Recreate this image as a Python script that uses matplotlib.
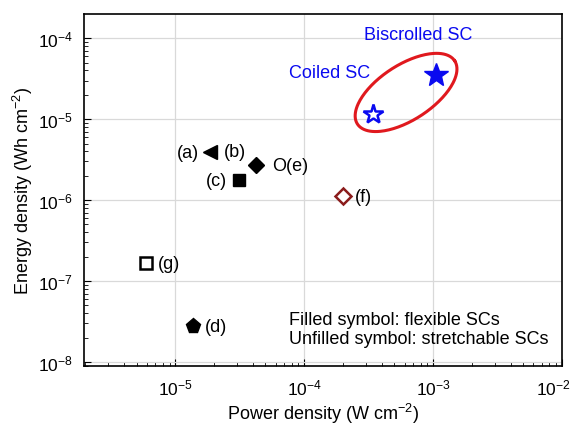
import numpy as np
import matplotlib
matplotlib.use('Agg')
import matplotlib.pyplot as plt
import matplotlib.transforms as mtransforms

plt.rcParams['font.family'] = ['Liberation Sans', 'DejaVu Sans']
plt.rcParams['mathtext.fontset'] = 'custom'
plt.rcParams['mathtext.rm'] = 'Liberation Sans'
plt.rcParams['mathtext.it'] = 'Liberation Sans:italic'

# points (W cm^-2, Wh cm^-2)
names = ['ab', 'c', 'd', 'e', 'f', 'g', 'coiled', 'biscrolled']
power = [1.87e-5, 3.1e-5, 1.38e-5, 4.2e-5, 2.0e-4, 5.9e-6, 3.4e-4, 1.05e-3]
energy = [3.9e-6, 1.77e-6, 2.76e-8, 2.7e-6, 1.12e-6, 1.66e-7, 1.15e-5, 3.5e-5]
markers = ['<', 's', 'p', 'D', 'D', 's', '*', '*']
sizes = [10, 8.5, 11, 8, 8, 8, 15, 18]
faces = ['black', 'black', 'black', 'black', 'white', 'white', 'white', '#0a0af0']
edges = ['black', 'black', 'black', 'black', '#8b1c1c', 'black', '#0a0af0', '#0a0af0']

# text labels: (text, point index, dx pt, dy pt, ha)
labels = [('(a)', 0, -8.5, 0, 'right'),
          ('(b)', 0, 10, 0.5, 'left'),
          ('O(e)', 3, 11.5, 0, 'left'),
          ('(c)', 1, -8.5, 0, 'right'),
          ('(f)', 4, 8.5, 0, 'left'),
          ('(g)', 5, 8.5, 0, 'left'),
          ('(d)', 2, 8, 0, 'left')]

fs = 13

fig = plt.figure(figsize=(5.74, 4.27), dpi=100)
ax = fig.add_axes([0.1463, 0.1405, 0.979 - 0.1463, 0.965 - 0.1405])
ax.set_xscale('log')
ax.set_yscale('log')
xlim = (10**-5.71, 1e-2)
ylim = (10**-8.05, 10**-3.70)
ax.set_xlim(*xlim)
ax.set_ylim(*ylim)

ax.grid(True, which='major', color='#d9d9d9', linewidth=0.9)
ax.set_axisbelow(True)

for i in range(len(names)):
    ax.plot(power[i], energy[i], linestyle='none', marker=markers[i], markersize=sizes[i],
            markerfacecolor=faces[i], markeredgecolor=edges[i],
            markeredgewidth=1.8 if faces[i] == 'white' else 1.0, zorder=3)

for txt, i, dx, dy, ha in labels:
    ax.annotate(txt, (power[i], energy[i]), xytext=(dx, dy), textcoords='offset points',
                ha=ha, va='center', fontsize=fs)

ax.annotate('Biscrolled SC', (power[7], energy[7]), xytext=(-13, 29.5), textcoords='offset points',
            ha='center', va='center', fontsize=fs, color='#0a0af0')
ax.annotate('Coiled SC', (power[6], energy[6]), xytext=(-31, 30), textcoords='offset points',
            ha='center', va='center', fontsize=fs, color='#0a0af0')

# ellipse around the two SC stars, built in display-proportional log space
bbox = ax.get_window_extent()
px_x = bbox.width / (np.log10(xlim[1]) - np.log10(xlim[0]))
px_y = bbox.height / (np.log10(ylim[1]) - np.log10(ylim[0]))
cx, cy = -3.21, -4.67
a, b, th = 58, 27.5, np.deg2rad(33)
t = np.linspace(0, 2 * np.pi, 200)
dx = a * np.cos(t) * np.cos(th) - b * np.sin(t) * np.sin(th)
dy = a * np.cos(t) * np.sin(th) + b * np.sin(t) * np.cos(th)
ax.plot(10**(cx + dx / px_x), 10**(cy + dy / px_y), color='#e0191e', linewidth=2.2, zorder=2)

ax.text(0.429, 0.105, 'Filled symbol: flexible SCs\nUnfilled symbol: stretchable SCs',
        transform=ax.transAxes, ha='left', va='center', fontsize=fs, linespacing=1.2)

ax.set_xlabel('Power density (W cm$^{-2}$)', fontsize=fs, labelpad=3)
ax.set_ylabel('Energy density (Wh cm$^{-2}$)', fontsize=fs, labelpad=2)
ax.tick_params(which='both', direction='in', top=False, right=False)
ax.tick_params(which='major', length=5, labelsize=12.5, pad=8)
ax.tick_params(which='minor', length=3)
for s in ax.spines.values():
    s.set_linewidth(1.2)

# nudge the right-most x tick label so it stays inside the figure
fig.canvas.draw()
last = [lab for lab in ax.get_xticklabels() if lab.get_position()[0] == 1e-2]
for lab in last:
    lab.set_transform(lab.get_transform() + mtransforms.ScaledTranslation(-6 / 72, 0, fig.dpi_scale_trans))

fig.savefig('out.png', dpi=100)
